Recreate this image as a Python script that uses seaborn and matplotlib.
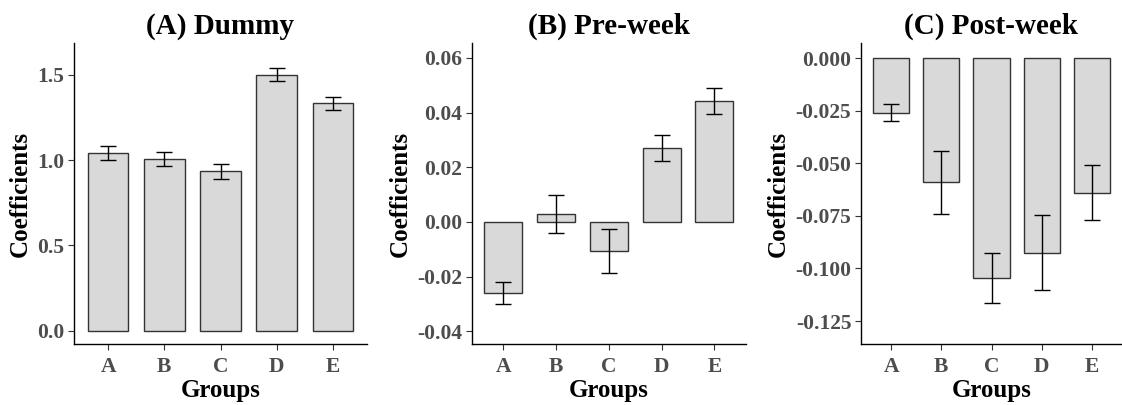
import matplotlib
matplotlib.use("Agg")
import matplotlib.pyplot as plt
import seaborn as sns
import pandas as pd
from matplotlib.ticker import FormatStrFormatter

# ---- data ----
groups = ["A", "B", "C", "D", "E"]

dummy_coef = [1.04, 1.005, 0.933, 1.50, 1.332]
dummy_err = [0.042, 0.042, 0.044, 0.038, 0.037]

pre_coef = [-0.026, 0.003, -0.0107, 0.027, 0.0441]
pre_err = [0.004, 0.007, 0.008, 0.0048, 0.0048]

post_coef = [-0.026, -0.059, -0.1045, -0.0925, -0.064]
post_err = [0.004, 0.015, 0.012, 0.0177, 0.013]

titles = ["(A) Dummy", "(B) Pre-week", "(C) Post-week"]
yticks_list = [[0.0, 0.5, 1.0, 1.5],
               [-0.04, -0.02, 0.00, 0.02, 0.04, 0.06],
               [-0.125, -0.100, -0.075, -0.050, -0.025, 0.000]]
yfmts = ["%.1f", "%.2f", "%.3f"]
ylims = [(-0.078, 1.684), (-0.0446, 0.0653), (-0.1359, 0.007)]

# ---- style ----
sns.set_theme(style="white")
plt.rcParams["font.family"] = ["Liberation Serif", "DejaVu Serif"]
plt.rcParams["axes.unicode_minus"] = False

fig = plt.figure(figsize=(11.22, 4.05), dpi=100)
W, H = 1122, 405
panels = [(74.3, 366.7), (471.7, 746.0), (861.0, 1122.0)]
top_px, bot_px = 43.3, 344.0
capsizes = [6.0, 5.7, 5.5]

datasets = [(dummy_coef, dummy_err), (pre_coef, pre_err), (post_coef, post_err)]

for i, ((l, r), (vals, errs)) in enumerate(zip(panels, datasets)):
    ax = fig.add_axes([l / W, (H - bot_px) / H, (r - l) / W, (bot_px - top_px) / H])
    df = pd.DataFrame({"Groups": groups, "Coefficients": vals})
    sns.barplot(data=df, x="Groups", y="Coefficients", ax=ax, errorbar=None,
                width=0.72, color="#D9D9D9", edgecolor="#333333", linewidth=1.0,
                saturation=1)
    ax.errorbar(x=list(range(len(groups))), y=vals, yerr=errs, fmt="none",
                ecolor="black", elinewidth=1.0, capsize=capsizes[i], capthick=1.0)
    ax.set_xlim(-0.6, len(groups) - 0.4)
    ax.set_ylim(*ylims[i])
    ax.set_yticks(yticks_list[i])
    ax.yaxis.set_major_formatter(FormatStrFormatter(yfmts[i]))
    for side in ["top", "right"]:
        ax.spines[side].set_visible(False)
    for side in ["left", "bottom"]:
        ax.spines[side].set_color("black")
        ax.spines[side].set_linewidth(1.0)
    ax.tick_params(axis="both", which="major", length=4, width=0.8, color="#333333",
                   labelsize=15.5, labelcolor="#4D4D4D", left=True, bottom=True, pad=3)
    ax.tick_params(axis="x", pad=5)
    for lab in ax.get_xticklabels() + ax.get_yticklabels():
        lab.set_fontweight("bold")
    ax.set_xlabel("Groups", fontsize=18, fontweight="bold", color="black", labelpad=2)
    ax.set_ylabel("Coefficients", fontsize=18, fontweight="bold", color="black", labelpad=4)
    ax.set_title(titles[i], fontsize=21, fontweight="bold", color="black", pad=7)
    ax.grid(False)

fig.savefig("out.png", dpi=100, facecolor="white")
